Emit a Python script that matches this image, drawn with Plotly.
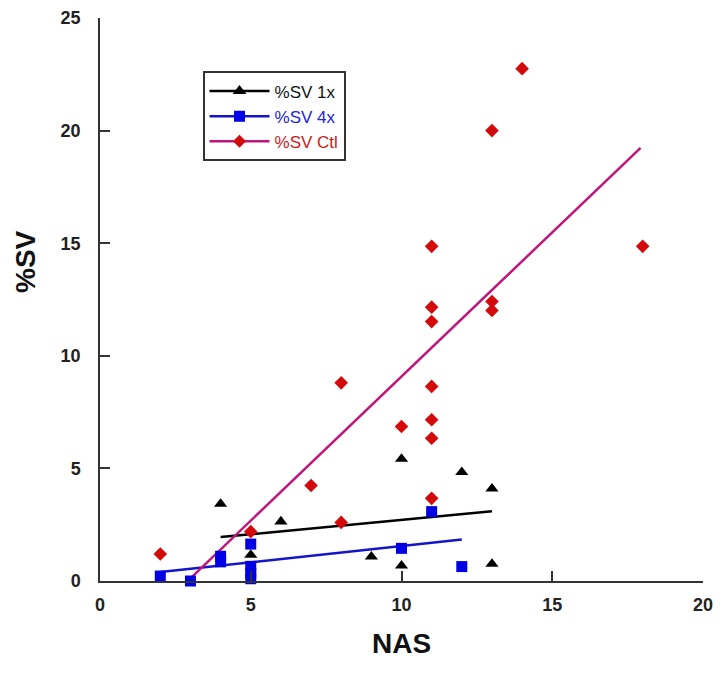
import plotly.graph_objects as go

# ---- data ----
x_1x = [4, 5, 6, 9, 10, 10, 12, 13, 13]
y_1x = [3.42, 1.16, 2.64, 1.08, 5.42, 0.68, 4.83, 4.1, 0.76]

x_4x = [2, 3, 4, 4, 5, 5, 5, 5, 10, 11, 12]
y_4x = [0.22, 0.0, 1.1, 0.85, 1.64, 0.65, 0.35, 0.1, 1.45, 3.08, 0.64]

x_ctl = [2, 5, 7, 8, 8, 10, 11, 11, 11, 11, 11, 11, 11, 13, 13, 13, 14, 18]
y_ctl = [1.2, 2.19, 4.24, 8.8, 2.6, 6.86, 14.86, 12.16, 11.52, 8.64, 7.16,
         6.34, 3.67, 20.0, 12.41, 12.01, 22.75, 14.86]

# trend-line end points
fit_x_1x = [4, 13]
fit_y_1x = [1.95, 3.1]
fit_x_4x = [2, 12]
fit_y_4x = [0.4, 1.84]
fit_x_ctl = [3, 17.93]
fit_y_ctl = [0.12, 19.23]

names = ["%SV 1x", "%SV 4x", "%SV Ctl"]

C_1X = "#000000"
C_4X = "#0000e6"
C_CTL = "#d40a0a"
L_CTL = "#c0157a"
L_4X = "#1414c8"

FONT = "Liberation Sans, Arial, sans-serif"

fig = go.Figure()

# trend lines
fig.add_trace(go.Scatter(x=fit_x_1x, y=fit_y_1x, mode="lines",
                         line=dict(color=C_1X, width=2.5), showlegend=False))
fig.add_trace(go.Scatter(x=fit_x_4x, y=fit_y_4x, mode="lines",
                         line=dict(color=L_4X, width=2.5), showlegend=False))
fig.add_trace(go.Scatter(x=fit_x_ctl, y=fit_y_ctl, mode="lines",
                         line=dict(color=L_CTL, width=2.5), showlegend=False))

# points
fig.add_trace(go.Scatter(x=x_4x, y=y_4x, mode="markers", cliponaxis=False,
                         marker=dict(symbol="square", size=11, color=C_4X),
                         showlegend=False))
fig.add_trace(go.Scatter(x=x_ctl, y=y_ctl, mode="markers", cliponaxis=False,
                         marker=dict(symbol="diamond", size=10.5, color=C_CTL),
                         showlegend=False))
fig.add_trace(go.Scatter(x=x_1x, y=y_1x, mode="markers", cliponaxis=False,
                         marker=dict(symbol="triangle-up", size=11.5, color=C_1X),
                         showlegend=False))

# legend entries (line + marker)
fig.add_trace(go.Scatter(x=[None], y=[None], mode="lines+markers",
                         name='<span style="color:#111111">' + names[0] + "</span>",
                         line=dict(color=C_1X, width=2.5),
                         marker=dict(symbol="triangle-up", size=12, color=C_1X)))
fig.add_trace(go.Scatter(x=[None], y=[None], mode="lines+markers",
                         name='<span style="color:#2222dd">' + names[1] + "</span>",
                         line=dict(color=L_4X, width=2.5),
                         marker=dict(symbol="square", size=11, color=C_4X)))
fig.add_trace(go.Scatter(x=[None], y=[None], mode="lines+markers",
                         name='<span style="color:#d01818">' + names[2] + "</span>",
                         line=dict(color=L_CTL, width=2.5),
                         marker=dict(symbol="diamond", size=10, color=C_CTL)))

axis_common = dict(
    showline=True, linecolor="#333333", linewidth=1.5,
    ticks="inside", ticklen=10, tickwidth=1.5, tickcolor="#333333",
    showgrid=False, zeroline=False, dtick=5, automargin=False,
    tickfont=dict(family=FONT, size=18, color="#222222", weight="bold"),
)

fig.update_layout(
    width=718, height=669,
    margin=dict(l=92, r=23, t=10, b=96),
    paper_bgcolor="white", plot_bgcolor="white",
    font=dict(family=FONT, color="#222222"),
    xaxis=dict(range=[0, 20], tick0=0,
               title=dict(text="NAS", font=dict(family=FONT, size=28, color="#111111", weight="bold"),
                          standoff=19),
               ticklabelstandoff=7,
               **axis_common),
    yaxis=dict(range=[0, 25], tick0=0, ticklabelstandoff=14, **axis_common),
    legend=dict(x=0.17, y=0.905, xanchor="left", yanchor="top",
                bgcolor="white", bordercolor="#333333", borderwidth=2,
                font=dict(family=FONT, size=17),
                itemwidth=60, tracegroupgap=0),
    annotations=[dict(text="%SV", xref="paper", yref="paper",
                      x=(25 - 100) / 603, y=(581 - 262) / 563,
                      xanchor="center", yanchor="middle", textangle=-90,
                      showarrow=False,
                      font=dict(family=FONT, size=28, color="#111111", weight="bold"))],
)

fig.write_html("out.html")
